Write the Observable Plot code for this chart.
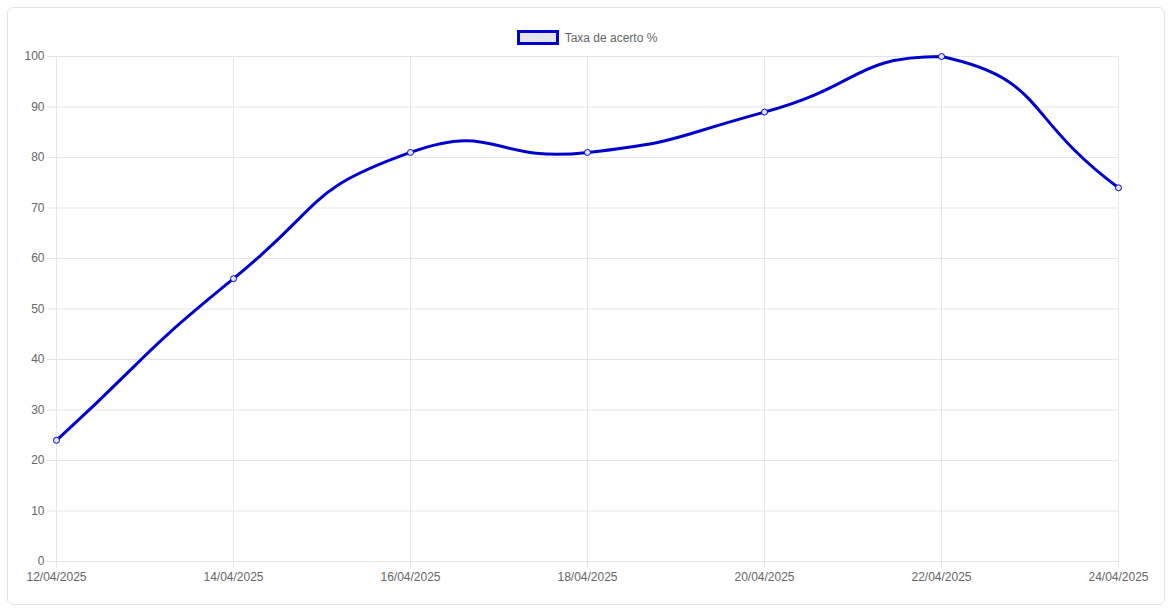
<!DOCTYPE html>
<html><head><meta charset="utf-8">
<script src="https://cdn.jsdelivr.net/npm/d3@7"></script>
<script src="https://cdn.jsdelivr.net/npm/@observablehq/plot@0.6"></script>
<style>
html,body{margin:0;padding:0;background:#fff;width:1174px;height:611px;overflow:hidden;font-family:"Liberation Sans",Arial,Helvetica,sans-serif;}
#card{position:absolute;left:7px;top:7px;width:1158px;height:598px;border:1px solid #e3e3e3;border-radius:6px;box-sizing:border-box;}
#legend{position:absolute;left:0;top:31px;width:1174px;text-align:center;font-size:12px;color:#666;}
#legend .box{display:inline-block;width:36px;height:9px;background:#e4e4ef;border:3px solid #0000cd;vertical-align:middle;margin-right:6px;position:relative;top:-1px;}
#chart{position:absolute;left:0;top:0;}
</style></head>
<body>
<div id="card"></div>
<div id="chart"></div>
<div id="legend"><span class="box"></span><span>Taxa de acerto %</span></div>
<script>
const dates = ["12/04/2025","14/04/2025","16/04/2025","18/04/2025","20/04/2025","22/04/2025","24/04/2025"];
const values = [24, 56, 81, 81, 89, 100, 74];
const yTicks = [0,10,20,30,40,50,60,70,80,90,100];
const seriesName = "Taxa de acerto %";

const W = 1174, H = 611, ML = 55, MR = 55, MT = 56, MB = 50;
const data = dates.map((d,i)=>({date:d, value:values[i]}));
const grid = "#e5e5e5";

// Chart.js-style bezier spline with control points capped to the chart area
function chartJsCurve(t, area) {
  return function(context) {
    return {
      areaStart(){}, areaEnd(){},
      lineStart(){ this._p = []; },
      point(x, y){ this._p.push({x:+x, y:+y}); },
      lineEnd(){
        const p = this._p, n = p.length;
        if (!n) return;
        const cl = (v, a, b) => Math.max(a, Math.min(b, v));
        const cps = p.map((cur, i) => {
          const prev = i > 0 ? p[i-1] : cur;
          const next = i < n-1 ? p[i+1] : cur;
          const d01 = Math.hypot(cur.x-prev.x, cur.y-prev.y);
          const d12 = Math.hypot(next.x-cur.x, next.y-cur.y);
          let s01 = d01/(d01+d12), s12 = d12/(d01+d12);
          if (isNaN(s01)) s01 = 0; if (isNaN(s12)) s12 = 0;
          const fa = t*s01, fb = t*s12;
          return {
            px: cl(cur.x - fa*(next.x-prev.x), area.left, area.right),
            py: cl(cur.y - fa*(next.y-prev.y), area.top, area.bottom),
            nx: cl(cur.x + fb*(next.x-prev.x), area.left, area.right),
            ny: cl(cur.y + fb*(next.y-prev.y), area.top, area.bottom)
          };
        });
        context.moveTo(p[0].x, p[0].y);
        for (let i = 1; i < n; i++) {
          context.bezierCurveTo(cps[i-1].nx, cps[i-1].ny, cps[i].px, cps[i].py, p[i].x, p[i].y);
        }
      }
    };
  };
}

const chart = Plot.plot({
  width: W,
  height: H,
  marginLeft: ML,
  marginRight: MR,
  marginTop: MT,
  marginBottom: MB,
  style: {fontFamily: '"Liberation Sans", Arial, Helvetica, sans-serif', fontSize: "12px", color: "#666", background: "transparent", overflow: "visible"},
  x: {type: "point", domain: dates, padding: 0},
  y: {domain: [0, 100]},
  marks: [
    Plot.gridX(dates, {stroke: grid, strokeOpacity: 1}),
    Plot.gridY(yTicks, {stroke: grid, strokeOpacity: 1}),
    Plot.axisY(yTicks, {tickSize: 8, tickPadding: 3, stroke: grid, label: null, fill: "#666"}),
    Plot.axisX(dates, {tickSize: 7, tickPadding: 4, stroke: grid, label: null, fill: "#666"}),
    Plot.line(data, {x: "date", y: "value", stroke: "#0000cd", strokeWidth: 3,
      curve: chartJsCurve(0.55, {left: ML, right: W-MR, top: MT, bottom: H-MB})}),
    Plot.dot(data, {x: "date", y: "value", r: 3, stroke: "#0000cd", strokeWidth: 1, fill: "#e4e4ef"})
  ]
});
document.getElementById("chart").appendChild(chart);
</script>
</body></html>
